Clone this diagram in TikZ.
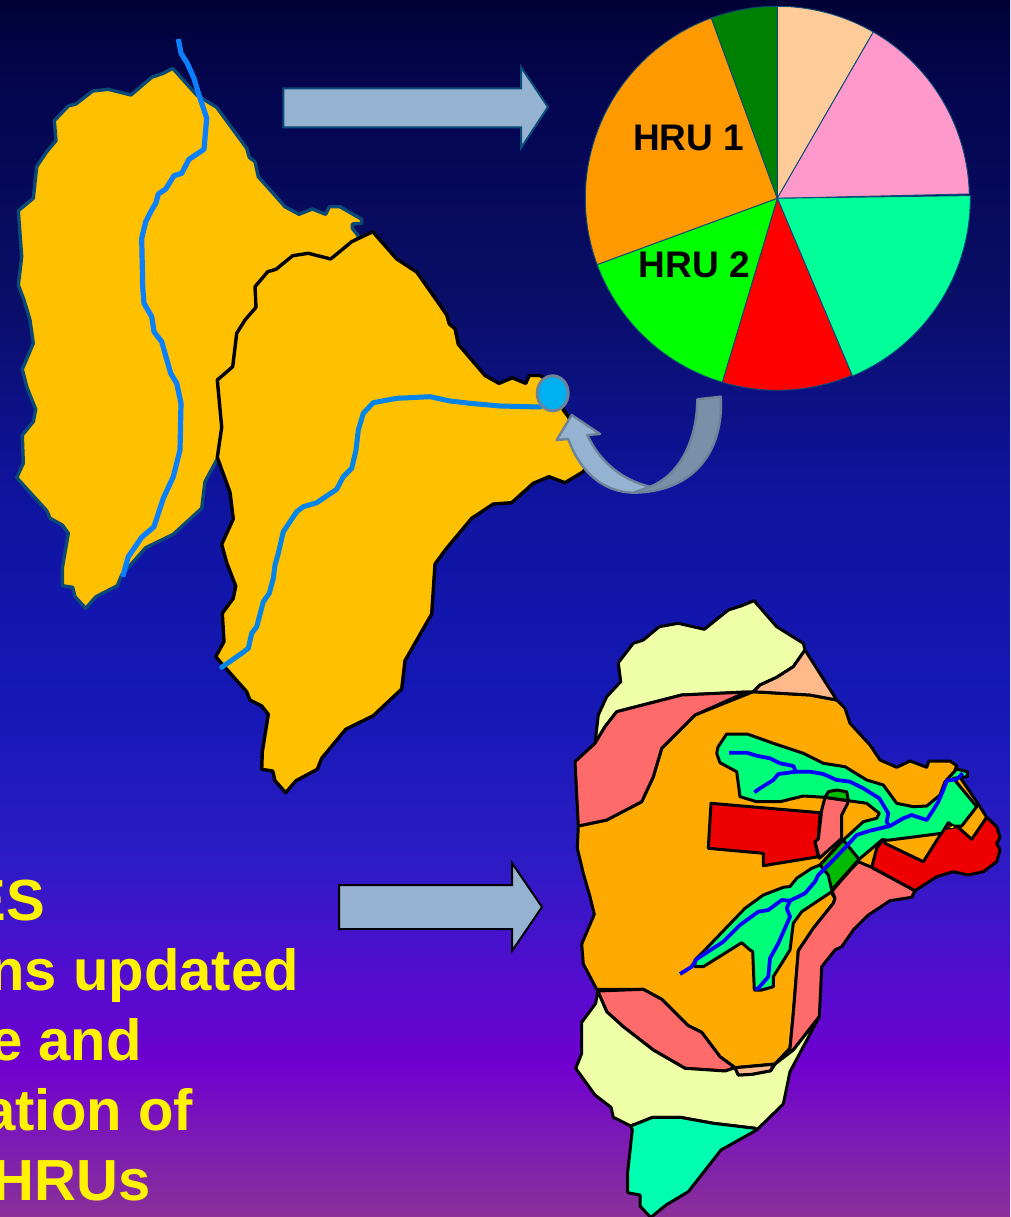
\documentclass[tikz,border=0pt]{standalone}
\usepackage{fontspec}
\usetikzlibrary{shapes.geometric}
\setmainfont{Liberation Sans}
\definecolor{bga}{HTML}{8A3098}
\definecolor{bgb}{HTML}{7A18B8}
\definecolor{bgc}{HTML}{7000D0}
\definecolor{bgd}{HTML}{5A0AD0}
\definecolor{bge}{HTML}{2A1CC4}
\definecolor{bgf}{HTML}{1518B5}
\definecolor{bgg}{HTML}{0F14A0}
\definecolor{bgh}{HTML}{090E68}
\definecolor{bgi}{HTML}{040650}
\definecolor{bgj}{HTML}{020238}
\pgfdeclareverticalshading{bgshade}{100bp}{
 color(0bp)=(bga);
 color(25bp)=(bga);
 color(28.57bp)=(bgb);
 color(31.25bp)=(bgc);
 color(33.9bp)=(bgd);
 color(40.08bp)=(bge);
 color(46.25bp)=(bgf);
 color(54.45bp)=(bgg);
 color(62.65bp)=(bgh);
 color(70.9bp)=(bgi);
 color(75bp)=(bgj);
 color(100bp)=(bgj)}
\definecolor{shed}{HTML}{FFC000}
\definecolor{shededge}{HTML}{0B4A78}
\definecolor{riverA}{HTML}{0A80FF}
\definecolor{riverB}{HTML}{0284E8}
\definecolor{arrowfill}{HTML}{95B3D0}
\definecolor{arrowdark}{HTML}{7A90A8}
\definecolor{arrowline}{HTML}{6D8399}
\definecolor{markerfill}{HTML}{00B0F0}
\definecolor{mporange}{HTML}{FFAA00}
\definecolor{mppink}{HTML}{FF6A6A}
\definecolor{mppale}{HTML}{EEFFA8}
\definecolor{mppeach}{HTML}{FFB98A}
\definecolor{mpmint}{HTML}{00FFB0}
\definecolor{mpgreen}{HTML}{00FF78}
\definecolor{mpdark}{HTML}{00BB00}
\definecolor{mpred}{HTML}{EE0000}
\definecolor{piepeach}{HTML}{FFCC99}
\definecolor{piepink}{HTML}{FF99CC}
\definecolor{piemint}{HTML}{00FF99}
\definecolor{pieorange}{HTML}{FF9900}
\definecolor{piedark}{HTML}{008000}
\tikzset{
 shedup/.style={fill=shed,draw=shededge,line width=3.4pt,line join=round},
 shedlow/.style={fill=shed,draw=black,line width=3.4pt,line join=round},
 riverup/.style={draw=riverA,line width=5.2pt,line join=round},
 riverlow/.style={draw=riverB,line width=5pt,line join=round,line cap=round},
 region/.style={draw=black,line width=3pt,line join=round},
 stream/.style={draw=blue,line width=3.8pt,line join=round},
 slice/.style={draw=shededge,line width=0.9pt,line join=round},
 hru/.style={font=\bfseries\fontsize{37}{37}\selectfont,text=black,inner sep=0pt,anchor=base west},
 caption/.style={font=\bfseries\fontsize{58}{58}\selectfont,text=yellow,inner sep=0pt,anchor=base east}
}
\begin{document}
\begin{tikzpicture}[x=1pt,y=-1pt]
\useasboundingbox (0,0) rectangle (1010,1217);
\shade[shading=bgshade] (0,0) rectangle (1010,1217);

% upper-left watershed
\path[shedup] (172.7,68.3) -- (196.7,95) -- (216.7,107.3) -- (246.7,148.3) -- (249.3,157.3) -- (255,161.7) -- (258.3,176.7) -- (285,206.7) -- (299,214.3) -- (312.3,209) -- (325.7,214.3) -- (329.3,206.7) -- (340,206.7) -- (361.7,219.3) -- (361.7,223.3) -- (352.3,224) -- (352.3,228.3) -- (359,236.7) -- (300,300) -- (216.7,460) -- (205,481.7) -- (201.7,508.3) -- (173.3,534.3) -- (145.7,547.7) -- (121.7,575) -- (117.3,585.7) -- (96,596.7) -- (85.7,608.3) -- (75,596.7) -- (72.7,587.3) -- (62.3,585.7) -- (62.3,568.3) -- (68.3,533.3) -- (62.3,525) -- (50,518.3) -- (46.7,510.7) -- (16.7,477.7) -- (23.3,463.3) -- (22.3,435) -- (33.3,421.7) -- (35.7,409.3) -- (26.7,386.7) -- (22.3,369.3) -- (33.3,343.3) -- (30,320) -- (24,300) -- (18.3,285) -- (21.7,256.7) -- (18.3,210.7) -- (33.3,198.3) -- (36.7,166.7) -- (46.7,151.7) -- (56,140.7) -- (54.3,120.7) -- (68.3,106) -- (76,104) -- (92.7,91) -- (108.3,89.3) -- (131,95) -- (151.7,77.3) -- (163.3,73.3) -- cycle;
\path[riverup] (178.3,39) -- (181,53.3) -- (187.3,63.3) -- (194,78.3) -- (199,95) -- (206.7,118.3) -- (204,149.3) -- (189,159.3) -- (181.7,173.3) -- (174,175.7) -- (165.7,189) -- (158.3,194) -- (156,202.7) -- (151.7,210) -- (145.7,221.7) -- (141.7,238.3) -- (142.7,286.7) -- (144,303.3) -- (151.7,316.7) -- (154,331.7) -- (161.7,341.7) -- (170.7,373.3) -- (176.7,383.3) -- (181,403.3) -- (180,450) -- (173.3,476.7) -- (163.3,498.3) -- (154,526.7) -- (141.7,537.3) -- (128.3,556.7) -- (122.7,576.7);

% lower watershed
\path[shedlow] (372.7,231.7) -- (396.7,259) -- (416.7,272) -- (446.7,314.8) -- (449.3,324) -- (455,328.7) -- (458.3,344.3) -- (485,375.5) -- (499,383.4) -- (512.3,377.8) -- (525.7,383.4) -- (529.3,375.5) -- (540,375.5) -- (561.7,390) -- (563.3,410) -- (568.3,416.7) -- (590,460) -- (583.3,471.7) -- (565,482.7) -- (549,476.7) -- (533.3,483.3) -- (511.7,502.7) -- (493.3,504) -- (471.7,518.3) -- (446,549) -- (435,564) -- (431.7,614) -- (405,660.7) -- (401.7,689) -- (373.3,715.7) -- (345.7,729.3) -- (321.7,758.3) -- (317.3,769.3) -- (296,780.7) -- (285.7,792.7) -- (275,780.7) -- (272.7,771) -- (261.7,769.3) -- (262.3,751.7) -- (268.3,714.3) -- (261.7,706) -- (250,700) -- (246.7,691.7) -- (233.3,676.7) -- (215.7,656.7) -- (224,641.7) -- (222.3,613.3) -- (233.3,598.3) -- (235.7,586) -- (226.7,562.7) -- (221.7,544.3) -- (233.3,519) -- (230,492.3) -- (217.3,457.3) -- (221.7,427.3) -- (217.3,380) -- (232.7,366.7) -- (236.7,333.3) -- (245,320) -- (256,307.3) -- (255,286.7) -- (267.7,271.7) -- (276,269.3) -- (292.7,255.7) -- (308.3,253.3) -- (330.7,259) -- (351.7,241.7) -- cycle;
\path[riverlow] (540,407) -- (500,406) -- (470,403.3) -- (450,401) -- (430,396.7) -- (396.7,398.3) -- (373.3,402.7) -- (363.3,413.3) -- (358.3,430) -- (356,450) -- (351.7,468.3) -- (343.3,476.7) -- (336.7,489.3) -- (316.7,502.7) -- (303.3,506.7) -- (296.7,511.7) -- (283.3,531.7) -- (278.3,553.3) -- (275,565) -- (273.3,578.3) -- (269.3,593.3) -- (263.3,601.7) -- (256.7,626.7) -- (251.7,633.3) -- (248.3,648.3) -- (241.7,653.3) -- (221.7,667.3);

% outlet marker
\node[draw=arrowline,fill=markerfill,line width=3pt,shape=ellipse,minimum width=31pt,minimum height=35pt,inner sep=0pt] (outlet) at (552.7,393.3) {};

% curved arrow
\path[fill=arrowdark,draw=arrowline,line width=2.4pt,line join=round] (720.7,396.7) .. controls (724,450) and (695,492) .. (633.3,492.7) -- (650,486.7) .. controls (680,475) and (697,440) .. (697.3,399.3) -- cycle;
\path[fill=arrowfill,draw=arrowline,line width=2.4pt,line join=round] (571.7,415) -- (600,434) -- (587.3,435) .. controls (600,462) and (622,480) .. (650,486.7) -- (633.3,492.7) .. controls (603,492) and (580,472) .. (568.3,439) -- (556.7,440) -- cycle;

% straight arrows
\path[fill=arrowfill,draw=shededge,line width=2pt,line join=miter] (283.3,88.3) -- (521,88.3) -- (521,67) -- (548,107) -- (521,148) -- (521,127.3) -- (283.3,127.3) -- cycle;
\path[fill=arrowfill,draw=black,line width=2pt,line join=miter] (339,885) -- (512,885) -- (512,863) -- (542,907) -- (512,951) -- (512,929) -- (339,929) -- cycle;

% pie
\begin{scope}[shift={(777.3,198.3)},x=1pt,y=1pt]
\path[slice,fill=piepeach] (0,0) -- (90:192) arc[start angle=90,end angle=60,radius=192] -- cycle;
\path[slice,fill=piepink] (0,0) -- (60:192) arc[start angle=60,end angle=1.3,radius=192] -- cycle;
\path[slice,fill=piemint] (0,0) -- (0.8:193) arc[start angle=0.8,end angle=-67.1,radius=193] -- cycle;
\path[slice,fill=red] (0,0) -- (-67.1:192) arc[start angle=-67.1,end angle=-106.65,radius=192] -- cycle;
\path[slice,fill=green] (0,0) -- (-106.65:192) arc[start angle=-106.65,end angle=-159.8,radius=192] -- cycle;
\path[slice,fill=pieorange] (0,0) -- (200.2:192) arc[start angle=200.2,end angle=110.1,radius=192] -- cycle;
\path[slice,fill=piedark] (0,0) -- (110.1:192) arc[start angle=110.1,end angle=90,radius=192] -- cycle;
\end{scope}
\node[hru] (hruone) at (633,151) {HRU 1};
\node[hru] (hrutwo) at (638.5,277) {HRU 2};

% land-use map
\path[region,fill=mporange] (578.3,826) -- (606.7,820) -- (641.7,801.7) -- (653.3,776.7) -- (661.7,748.3) -- (695,715) -- (753.3,691.7) -- (810,695) -- (836.7,700) -- (845,708.3) -- (850,723.3) -- (870,745) -- (880,760) -- (896.7,767.3) -- (910,761) -- (926.7,767.3) -- (929,761) -- (950,761) -- (956.7,765.7) -- (955,770) -- (976.7,801.7) -- (986.7,817.3) -- (960,860) -- (858.3,900) -- (831.7,893.3) -- (835,898.3) -- (833.3,903.3) -- (813.3,928.3) -- (798.3,950.7) -- (795.7,983.3) -- (793.3,1013.3) -- (790,1048.3) -- (775,1064) -- (735,1067.7) -- (720,1056.7) -- (701.7,1032.3) -- (688.3,1025.7) -- (661.7,999.3) -- (643.3,989.3) -- (596.7,989.3) -- (583.3,964) -- (581.7,944) -- (594.3,914.3) -- (590,896.7) -- (583.3,873.3) -- (577.3,848.3) -- cycle;
\path[region,fill=mppale] (754,600.7) -- (776.7,626.7) -- (803.3,643.3) -- (805,650) -- (793.3,666.7) -- (776.7,677.3) -- (760,685) -- (753.3,691.7) -- (681.7,695) -- (616.7,711.7) -- (605,726.7) -- (595,743.3) -- (598.3,715) -- (606.7,696.7) -- (620.7,681.7) -- (618.3,662.7) -- (633.3,643.3) -- (643.3,640) -- (659.3,626.7) -- (678.3,623.3) -- (704.3,629.3) -- (728.3,610) -- (741.7,605.7) -- cycle;
\path[region,fill=mppeach] (805,650) -- (836.7,700) -- (810,695) -- (753.3,691.7) -- (760,685) -- (776.7,677.3) -- (793.3,666.7) -- cycle;
\path[region,fill=mppink] (575,761.7) -- (595,743.3) -- (605,726.7) -- (616.7,711.7) -- (681.7,695) -- (746.7,692) -- (695,715) -- (661.7,748.3) -- (653.3,776.7) -- (641.7,801.7) -- (606.7,820) -- (578.3,826) -- cycle;
\path[region,fill=mppink] (858.3,861.7) -- (871.7,867.3) -- (915,890.7) -- (911.7,897.3) -- (890,900.7) -- (868.3,915) -- (853.3,930) -- (841.7,946.7) -- (835,950) -- (821.7,966.7) -- (819.3,1016.7) -- (793.3,1050) -- (775,1064) -- (790,1048.3) -- (793.3,1013.3) -- (795.7,983.3) -- (798.3,950.7) -- (813.3,928.3) -- (833.3,903.3) -- (835,898.3) -- (831.7,890) -- cycle;
\path[region,fill=mppink] (597.7,991) -- (643.3,989.3) -- (661.7,999.3) -- (688.3,1025.7) -- (701.7,1032.3) -- (720,1056.7) -- (735,1067.7) -- (725,1071) -- (685,1068.3) -- (653.3,1050) -- (623.3,1026.7) -- (606.7,1011.7) -- cycle;
\path[region,fill=mppale] (597.7,991) -- (606.7,1011.7) -- (623.3,1026.7) -- (653.3,1050) -- (685,1068.3) -- (725,1071) -- (735,1067.7) -- (738.3,1075) -- (751.7,1074.3) -- (770.7,1070.7) -- (775,1064) -- (793.3,1050) -- (819.3,1016.7) -- (790,1071.7) -- (783.3,1104) -- (756.7,1130) -- (755,1128.3) -- (713.3,1123.3) -- (680,1117.3) -- (652.7,1117.3) -- (630.7,1126) -- (613.3,1117.3) -- (611,1107.3) -- (595,1095) -- (575.7,1068.3) -- (581.7,1053.3) -- (581.7,1022.3) -- (595.7,1003.3) -- cycle;
\path[region,fill=mppeach] (735,1067.7) -- (773.3,1064.3) -- (770.7,1070.7) -- (751.7,1074.3) -- (738.3,1075) -- cycle;
\path[region,fill=mpmint] (630.7,1126) -- (652.7,1117.3) -- (680,1117.3) -- (713.3,1123.3) -- (755,1128.3) -- (756.7,1130) -- (721,1150) -- (688.3,1191.7) -- (666,1205) -- (651.7,1216.7) -- (650,1216.7) -- (640,1206) -- (640,1195) -- (627.7,1192.7) -- (627.7,1171.7) -- (632.3,1130) -- cycle;
% red fields
\path[region,fill=mpred] (871.7,867.3) -- (876.7,848.3) -- (883.3,839) -- (885,843.3) -- (923.3,861.7) -- (943.3,830) -- (948.3,823.3) -- (956.7,826) -- (971.7,839.3) -- (986.7,817.3) -- (996.7,826.7) -- (1000,837.3) -- (996.7,843.3) -- (1000,850) -- (996.7,861.7) -- (983.3,871.7) -- (968.3,875) -- (953.3,871.7) -- (936.7,876.7) -- (915,890.7) -- cycle;
\path[region,fill=mpred] (711,803.3) -- (820,812.7) -- (818.3,838.3) -- (815,842.3) -- (818.3,856.7) -- (763.3,865.7) -- (763.3,853.3) -- (708.3,848.3) -- cycle;
% riparian zone
\path[region,fill=mpgreen] (726.7,734) -- (747.3,734) -- (773.3,743.3) -- (803.3,753.3) -- (823.3,763.3) -- (845,766.7) -- (866.7,780) -- (883.3,785) -- (896.7,803.3) -- (913.3,806.7) -- (926.7,806) -- (940,795) -- (945,781.7) -- (956.7,769) -- (967.3,771.7) -- (967.3,776.7) -- (953.3,778.3) -- (976.7,806.7) -- (961.7,826) -- (953.3,826) -- (948.3,822.7) -- (941.7,833.3) -- (890,840) -- (885,840) -- (882.7,839.3) -- (859,859.3) -- (831.7,891.7) -- (801.7,911.7) -- (793.3,923.3) -- (790,950) -- (773.3,976.7) -- (773.3,986.7) -- (761.7,990) -- (754.3,990) -- (752.7,951.7) -- (750,950) -- (741.7,942.7) -- (703.3,966.7) -- (695,966.7) -- (695,960) -- (703.3,951.7) -- (745,908.3) -- (763.3,895) -- (783.3,887.3) -- (790,886.5) -- (797,878) -- (811.7,868.3) -- (820,865) -- (843.3,840) -- (863.3,821.7) -- (876.7,818.3) -- (879.3,813.3) -- (866.7,803.3) -- (848.3,800.7) -- (825,797.3) -- (803.3,796) -- (780,801.7) -- (756.7,801.7) -- (740,796.7) -- (736.7,771.7) -- (720,762.7) -- (716.7,753.3) -- (718,747) -- cycle;
\path[region,fill=yellow,line width=1pt] (946,829.3) -- (953,825) -- (955,828) -- cycle;
\path[region,fill=mpdark] (843.3,840) -- (859,859.3) -- (831.7,890) -- (828.3,875) -- (820,865) -- cycle;
\path[region,fill=mppink] (825,797.3) -- (848.3,800.7) -- (847.7,803.3) -- (841.7,815) -- (841.7,838.3) -- (819.3,858.3) -- (816.7,848.3) -- (815,841.7) -- (818.3,839) -- (821.7,810) -- cycle;
\path[region,fill=mpdark] (825,797.3) -- (828.3,791.7) -- (836.7,790) -- (846.7,791.7) -- (848.3,800.7) -- cycle;
% streams
\path[stream] (729,752.7) -- (746.7,752.7) -- (756.7,755.7) -- (770,758.3) -- (780,763.3) -- (793.3,766) -- (796,771.7) -- (810,771.7) -- (823.3,774) -- (836.7,780) -- (850,781.7) -- (863.3,788.3) -- (879.3,798.3) -- (888.3,813.3) -- (886.7,821.7) -- (888.3,825);
\path[stream] (962.7,773.3) -- (956.7,779.3) -- (946.7,780.7) -- (943.3,790) -- (938.3,801.7) -- (933.3,810) -- (926.7,820) -- (911.7,815) -- (903.3,818.3) -- (890,826) -- (870,830.7) -- (856.7,835) -- (846.7,846) -- (833.3,860) -- (818.3,875) -- (815,881.7) -- (805,893.3) -- (790,900.7) -- (781.7,900) -- (768.3,910) -- (758.3,911.7) -- (740,925) -- (723.3,941.7) -- (696.7,959) -- (691.7,966.7) -- (680,974);
\path[stream] (790,900.7) -- (786.7,908.3) -- (790,916.7) -- (778.3,943.3) -- (770,958.3) -- (768.3,976.7) -- (758.3,988.3) -- (755,989.3);
\path[stream] (796,771.7) -- (778.3,774) -- (773.3,780) -- (760,788.3) -- (754.3,792.3);

% caption, running off the left edge as in the reference
\begin{scope}
\clip (0,0) rectangle (1010,1217);
\node[caption] (lineone) at (45.5,920) {ES};
\node[caption] (linetwo) at (299,990) {ns updated};
\node[caption] (linethree) at (142,1060) {e and};
\node[caption] (linefour) at (193,1130) {ation of};
\node[caption] (linefive) at (150.5,1200.5) {HRUs};
\end{scope}
\end{tikzpicture}
\end{document}
